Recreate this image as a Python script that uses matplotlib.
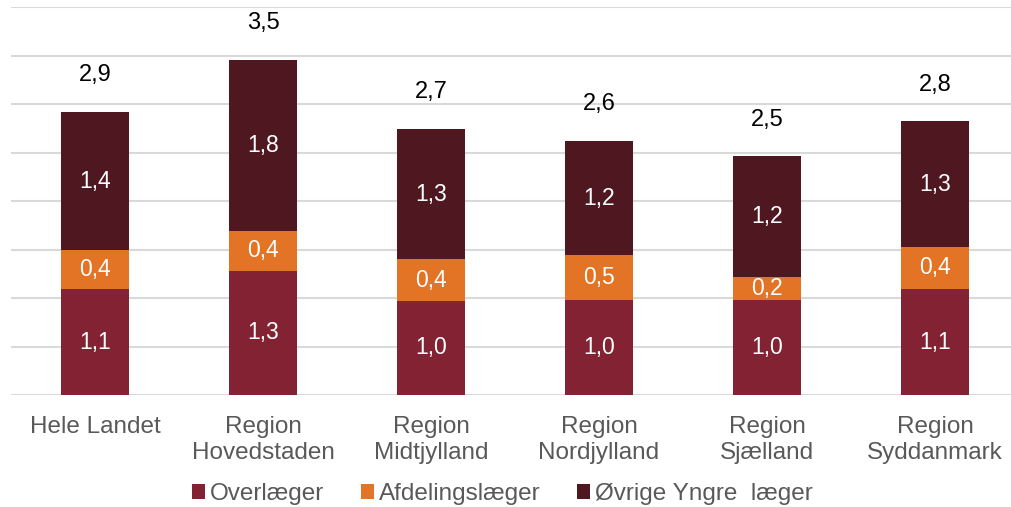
import numpy as np
from matplotlib import pyplot as plt

categories = ['Hele Landet', 'Region\nHovedstaden', 'Region\nMidtjylland',
              'Region\nNordjylland', 'Region\nSjælland', 'Region\nSyddanmark']
overlaeger = [1.09, 1.28, 0.97, 0.98, 0.98, 1.09]
afdelingslaeger = [0.40, 0.41, 0.43, 0.46, 0.24, 0.44]
oevrige = [1.43, 1.76, 1.34, 1.18, 1.24, 1.29]
series_names = ['Overlæger', 'Afdelingslæger', 'Øvrige Yngre  læger']
colors = ['#832232', '#E37426', '#4F1720']


def fmt(v):
    return ('%.1f' % v).replace('.', ',')


fig = plt.figure(figsize=(10.11, 5.07), dpi=100)
ax = fig.add_axes([11 / 1011, 1 - 395 / 507, 1008 / 1011, 388 / 507])

x = np.arange(len(categories))
bottom = np.zeros(len(categories))
for vals, name, col in zip([overlaeger, afdelingslaeger, oevrige], series_names, colors):
    vals = np.array(vals)
    ax.bar(x, vals, 0.4, bottom=bottom, color=col, label=name, zorder=2)
    for xi, b, v in zip(x, bottom, vals):
        ax.text(xi, b + v / 2, fmt(v), ha='center', va='center',
                color='white', fontsize=16.5, family='Liberation Sans')
    bottom += vals

for xi, t in zip(x, bottom):
    ax.text(xi, t + 0.38, fmt(t), ha='center', va='center',
            color='black', fontsize=17, family='Liberation Sans')

ax.set_ylim(0, 4)
ax.set_xlim(-0.5, 5.5)
ax.set_yticks(np.arange(0, 4.01, 0.5))
ax.yaxis.grid(True, color='#d9d9d9', linewidth=1.5, zorder=0)
ax.set_axisbelow(True)
ax.tick_params(axis='y', left=False, labelleft=False)
ax.tick_params(axis='x', length=0, pad=15)
ax.set_xticks(x)
ax.set_xticklabels(categories, fontsize=17.5, color='#595959',
                   family='Liberation Sans', linespacing=1.22)
for s in ax.spines.values():
    s.set_visible(False)

fig.legend(loc='lower center', bbox_to_anchor=(0.497, -0.04), ncol=3, frameon=False,
           prop={'family': 'Liberation Sans', 'size': 17.5},
           handlelength=0.55, handleheight=0.55, handletextpad=0.2, columnspacing=1.5,
           labelcolor='#595959')

fig.savefig('out.png', dpi=100)
